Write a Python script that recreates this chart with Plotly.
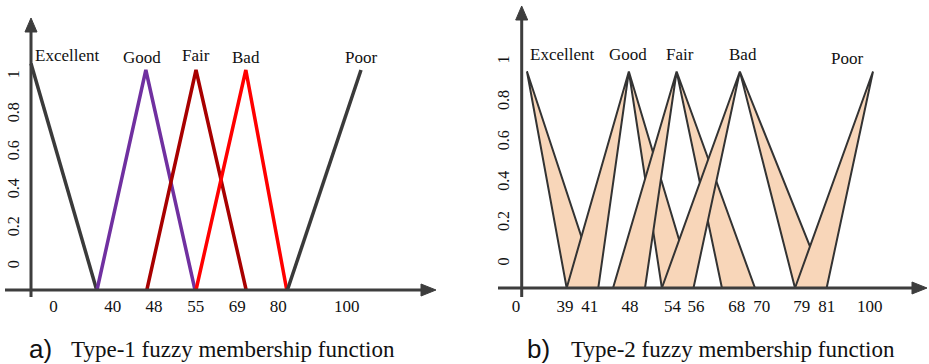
import plotly.graph_objects as go

# ---------------- data ----------------
# Panel a) Type-1 membership functions (schematic x position, membership)
t1_names = ["Excellent", "Good", "Fair", "Bad", "Poor"]
t1_x = [[0, 19.9], [20, 34.8, 49.7], [35.1, 50, 65.2], [50, 65.1, 77.5], [77.7, 100]]
t1_y = [[1.03, 0], [0, 1, 0], [0, 1, 0], [0, 1, 0], [0, 1]]
t1_colors = ["#3a3a3a", "#7030a0", "#a80000", "#ff0000", "#3a3a3a"]
t1_tick_text = ["0", "40", "48", "55", "69", "80", "100"]
t1_tick_pos = [6.8, 24.8, 37.3, 49.9, 62.5, 74.9, 95.7]

# Panel b) Type-2 membership functions: apex, left base pair, right base pair
t2_names = ["Excellent", "Good", "Fair", "Bad", "Poor"]
t2_apex = [1.5, 30.5, 44.1, 62.1, 100]
t2_left_base = [None, [12.8, 21.8], [26.0, 35.1], [39.9, 48.9], [77.8, 86.8]]
t2_right_base = [[12.8, 21.8], [39.9, 48.9], [57.0, 66.4], [77.8, 86.8], None]
t2_tick_text = ["0", "39", "41", "48", "54", "56", "68", "70", "79", "81", "100"]
t2_tick_pos = [-1.6, 12.3, 19.4, 30.8, 42.9, 49.6, 61.2, 68.3, 79.7, 86.8, 99.1]

y_tick_text = ["0", "0.2", "0.4", "0.6", "0.8", "1"]
t1_ytick_pos = [0.106, 0.279, 0.452, 0.624, 0.797, 0.97]
t2_ytick_pos = [0.111, 0.298, 0.484, 0.671, 0.857, 1.044]

captions = [("a)", "Type-1 fuzzy membership function"), ("b)", "Type-2 fuzzy membership function")]

# ---------------- layout helpers ----------------
W, H = 929, 364
SERIF = "Liberation Serif, Times New Roman, serif"
AXC = "#3d3d3d"
FILL = "#f8d6b9"


def px(x):
    return x / W


def py(y):
    return 1 - y / H


# panel pixel mappings: origin px, px per unit
L = dict(x0=31, xs=3.3, y0=290, ys=220, dom=(0, 460))
R = dict(x0=521.7, xs=3.513, y0=288, ys=216.5, dom=(460, 929))


def xr(p):
    return [(p["dom"][0] - p["x0"]) / p["xs"], (p["dom"][1] - p["x0"]) / p["xs"]]


def yr(p):
    return [(p["y0"] - H) / p["ys"], p["y0"] / p["ys"]]


fig = go.Figure()

# Panel a
for name, xs, ys, c in zip(t1_names, t1_x, t1_y, t1_colors):
    fig.add_trace(go.Scatter(x=xs, y=ys, mode="lines", line=dict(color=c, width=3.5),
                             name=name, xaxis="x", yaxis="y", hoverinfo="skip"))

# Panel b
for name, apex, lb, rb in zip(t2_names, t2_apex, t2_left_base, t2_right_base):
    xs, ys = [], []
    if lb is not None:
        xs += [lb[0], apex]
        ys += [0, 1]
    else:
        xs += [apex]
        ys += [1]
    if rb is not None:
        xs += [rb[1], rb[0], apex]
        ys += [0, 0, 1]
    else:
        xs += [apex]
        ys += [1]
    if lb is not None:
        xs += [lb[1], lb[0]]
        ys += [0, 0]
    else:
        xs += [apex]
        ys += [1]
    fig.add_trace(go.Scatter(x=xs, y=ys, mode="lines", fill="toself", fillcolor=FILL,
                             line=dict(color="#333333", width=2), name=name,
                             xaxis="x2", yaxis="y2", hoverinfo="skip"))

# Membership labels
t1_lab_pos = [(10.8, 1.064), (33.6, 1.059), (50, 1.068), (65.1, 1.059), (100, 1.059)]
t2_lab_pos = [(11.6, 1.079), (30.3, 1.079), (45.1, 1.079), (63.1, 1.079), (92.5, 1.061)]
ann = []
for name, (x, y) in zip(t1_names, t1_lab_pos):
    ann.append(dict(x=x, y=y, xref="x", yref="y", text=name, showarrow=False,
                    font=dict(family=SERIF, size=17, color="#111")))
for name, (x, y) in zip(t2_names, t2_lab_pos):
    ann.append(dict(x=x, y=y, xref="x2", yref="y2", text=name, showarrow=False,
                    font=dict(family=SERIF, size=17, color="#111")))

# Captions
for (lab, txt), (xa, xt) in zip(captions, [(27, 69), (525, 569)]):
    ann.append(dict(x=px(xa), y=py(349), xref="paper", yref="paper", text=lab, showarrow=False,
                    xanchor="left", yanchor="middle",
                    font=dict(family="Liberation Sans, Arial, sans-serif", size=26, color="#111")))
    ann.append(dict(x=px(xt), y=py(349), xref="paper", yref="paper", text=txt, showarrow=False,
                    xanchor="left", yanchor="middle",
                    font=dict(family=SERIF, size=23, color="#111")))

# Axis lines and arrowheads (paper coordinates)
shapes = []


def line(x0, y0, x1, y1):
    shapes.append(dict(type="line", xref="paper", yref="paper", x0=px(x0), y0=py(y0),
                       x1=px(x1), y1=py(y1), line=dict(color=AXC, width=3)))


def tri(pts):
    path = "M " + " L ".join(f"{px(a):.5f},{py(b):.5f}" for a, b in pts) + " Z"
    shapes.append(dict(type="path", xref="paper", yref="paper", path=path,
                       fillcolor=AXC, line=dict(color=AXC, width=1)))


line(5, 290, 424, 290)
tri([(436, 290), (421, 284), (421, 296)])
line(31, 297, 31, 30)
tri([(31, 18), (25, 32), (37, 32)])

line(498, 288, 914, 288)
tri([(927, 288), (912, 282), (912, 294)])
line(521.7, 297, 521.7, 18)
tri([(521.7, 6), (515.7, 20), (527.7, 20)])

common_x = dict(showgrid=False, zeroline=False, showline=False, ticks="", tickmode="array",
                tickfont=dict(family=SERIF, size=17, color="#111"), fixedrange=True)
common_y = dict(showgrid=False, zeroline=False, showline=False, ticks="", tickmode="array",
                tickangle=-90, tickfont=dict(family=SERIF, size=16, color="#111"), fixedrange=True)

fig.update_layout(
    width=W, height=H, margin=dict(l=0, r=0, t=0, b=0),
    paper_bgcolor="white", plot_bgcolor="white", showlegend=False,
    xaxis=dict(domain=[px(L["dom"][0]), px(L["dom"][1])], range=xr(L), anchor="free",
               position=py(290), tickvals=t1_tick_pos, ticktext=t1_tick_text,
               ticklabelstandoff=4, **common_x),
    yaxis=dict(domain=[0, 1], range=yr(L), anchor="free", position=px(22),
               tickvals=t1_ytick_pos, ticktext=y_tick_text, **common_y),
    xaxis2=dict(domain=[px(R["dom"][0]), px(R["dom"][1])], range=xr(R), anchor="free",
                position=py(288), tickvals=t2_tick_pos, ticktext=t2_tick_text,
                ticklabelstandoff=6, **common_x),
    yaxis2=dict(domain=[0, 1], range=yr(R), anchor="free", position=px(512),
                tickvals=t2_ytick_pos, ticktext=y_tick_text, **common_y),
    annotations=ann, shapes=shapes,
)

fig.write_html("out.html")
